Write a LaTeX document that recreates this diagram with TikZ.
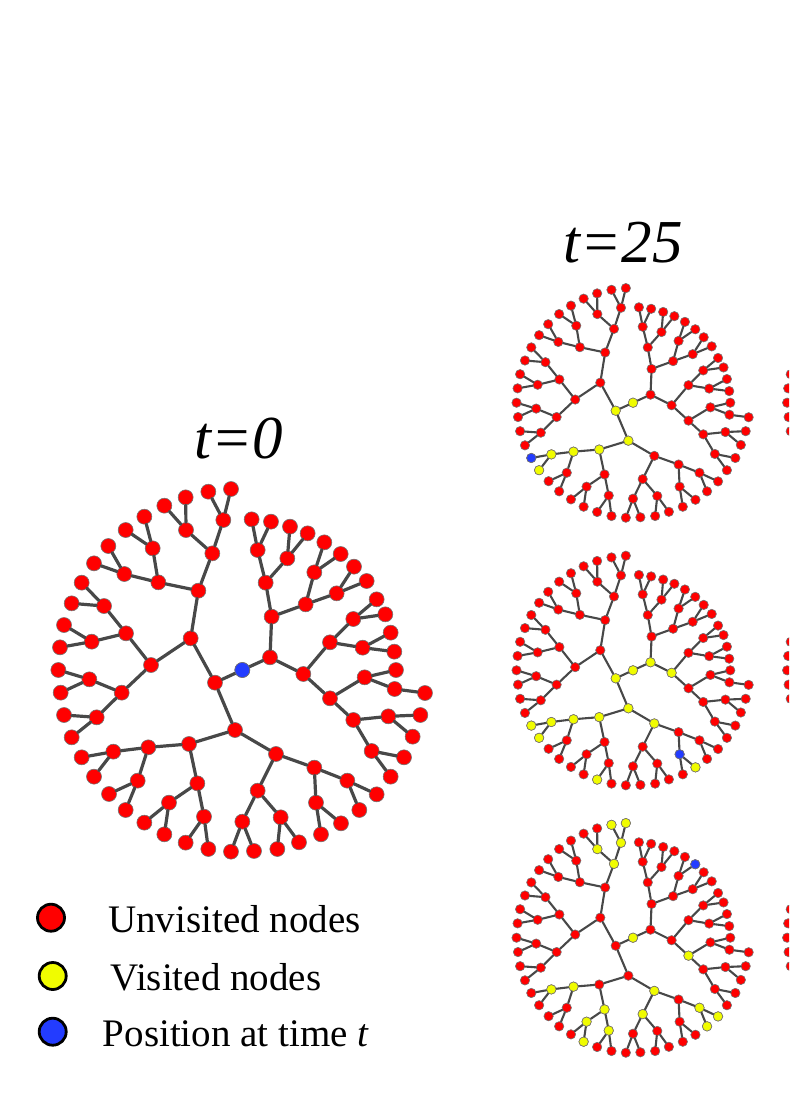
\documentclass[tikz,border=0pt]{standalone}
\usepackage{fontspec}
\setmainfont{Liberation Serif}

\definecolor{nodered}{RGB}{255,0,0}
\definecolor{nodeyellow}{RGB}{240,252,0}
\definecolor{nodeblue}{RGB}{35,60,255}
\definecolor{linkgray}{RGB}{72,72,72}
\definecolor{dotrim}{RGB}{115,115,115}

\tikzset{
  dot/.style={circle, inner sep=0pt, draw=dotrim, line width=0.6pt},
  bigdot/.style={minimum size=15pt},
  smalldot/.style={minimum size=9.4pt},
  unvisited/.style={dot, fill=nodered},
  visited/.style={dot, fill=nodeyellow},
  walker/.style={dot, fill=nodeblue},
  link/.style={draw=linkgray, line cap=round},
  legdot/.style={circle, inner sep=0pt, minimum size=27pt, draw=black, line width=2.8pt},
  legtext/.style={anchor=base west, inner sep=0pt, font=\fontsize{39}{39}\selectfont},
  stamp/.style={anchor=base, inner sep=0pt, font=\fontsize{61}{61}\selectfont\itshape}
}

% tree layout: name/parent/x/y, the root r sits at 607/600
\def\treenodes{l/r/525/638, m/r/690/562,
  A/l/452/505, B/l/585/780, C/m/695/440, D/m/790/612,
  A1/A/475/362, A2/A/333/585,
  A11/A1/517/250, A12/A1/355/337,
  A111/A11/550/150, A111a/A111/505/65, A111b/A111/573/57,
  A112/A11/438/180, A112a/A112/373/107, A112b/A112/437/82,
  A121/A12/338/235, A121a/A121/313/140, A121b/A121/257/180,
  A122/A12/253/312, A122a/A122/205/228, A122b/A122/162/280,
  A21/A2/258/490, A22/A2/245/668,
  A211/A21/192/408, A211a/A211/125/338, A211b/A211/95/400,
  A212/A21/155/515, A212a/A212/72/465, A212b/A212/60/532,
  A221/A22/148/628, A221a/A221/55/600, A221b/A221/62/668,
  A222/A22/170/742, A222a/A222/72/735, A222b/A222/95/802,
  B1/B/447/822, B2/B/708/852,
  B11/B1/325/832, B12/B1/472/940,
  B111/B11/220/845, B111a/B111/125/862, B111b/B111/162/920,
  B112/B11/293/932, B112a/B112/207/972, B112b/B112/257/1020,
  B121/B12/387/998, B121a/B121/313/1058, B121b/B121/373/1093,
  B122/B12/492/1040, B122a/B122/437/1118, B122b/B122/505/1137,
  B21/B2/653/962, B22/B2/823/893,
  B211/B21/607/1055, B211a/B211/573/1145, B211b/B211/642/1143,
  B212/B21/722/1042, B212a/B212/712/1137, B212b/B212/777/1117,
  B221/B22/828/998, B221a/B221/843/1093, B221b/B221/903/1060,
  B222/B22/922/932, B222a/B222/958/1020, B222b/B222/1010/973,
  C1/C/677/338, C2/C/797/403,
  C11/C1/653/240, C11a/C11/635/148, C11b/C11/693/155,
  C12/C1/742/265, C12a/C12/750/170, C12b/C12/803/190,
  C21/C2/823/307, C21a/C21/853/217, C21b/C21/902/252,
  C22/C2/890/370, C22a/C22/942/290, C22b/C22/980/333,
  D1/D/870/517, D2/D/870/685,
  D11/D1/940/447, D11a/D11/1010/388, D11b/D11/1036/433,
  D12/D1/968/533, D12a/D12/1052/488, D12b/D12/1063/545,
  D21/D2/974/622, D21a/D21/1068/600,
  D211/D21/1064/657, D211a/D211/1155/669,
  D22/D2/940/750, D221/D22/1045/739, D221a/D221/1141/735, D221b/D221/1118/800,
  D222/D22/995/843, D222a/D222/1092/862, D222b/D222/1052/920}

% #1 prefix, #2 centre, #3 scale, #4 dot style, #5 link width
\newcommand\drawtree[5]{%
  \begin{scope}[shift={#2}, scale=#3]
    \node[unvisited, #4] (#1r) at (0,0) {};
    \foreach \n/\p/\x/\y in \treenodes
      \node[unvisited, #4] (#1\n) at (\x-607,\y-600) {};
    \foreach \n/\p/\x/\y in \treenodes
      \draw[link, line width=#5] (#1\p) -- (#1\n);
  \end{scope}}

\begin{document}
\begin{tikzpicture}[x=1pt, y=-1pt]
    \useasboundingbox (0,0) rectangle (789,1115);
    \clip (0,0) rectangle (789,1115);

    % Titles
    \node[stamp] (stamp0) at (239,458.3) {t=0};
    \node[stamp] (stamp25) at (623,262.7) {t=25};

    % t = 0
    \drawtree{g-}{(242.33,670)}{0.3333}{bigdot}{3.2pt}
    \node[walker, bigdot] at (g-r) {};

    % t = 25, first walk
    \drawtree{s-}{(633,402.7)}{0.211}{smalldot}{2.1pt}
    \foreach \v in {r,l,B,B1,B11,B111,B111b}
      \node[visited, smalldot] at (s-\v) {};
    \node[walker, smalldot] at (s-B111a) {};

    % t = 25, second walk
    \drawtree{h-}{(633,670.3)}{0.211}{smalldot}{2.1pt}
    \foreach \v in {r,l,m,D,B,B1,B11,B111,B111a,B111b,B2,B122a,B221b}
      \node[visited, smalldot] at (h-\v) {};
    \node[walker, smalldot] at (h-B221) {};

    % t = 25, third walk
    \drawtree{k-}{(633,937.7)}{0.211}{smalldot}{2.1pt}
    \foreach \v in {r,D2,A11,A111,A111a,A111b,A112,B11,B111,B2,B12,B121,B121b,B122,B21,B222,B222a,B222b}
      \node[visited, smalldot] at (k-\v) {};
    \node[walker, smalldot] at (k-C21b) {};

    % next column, cut by the page edge
    \drawtree{u-}{(903.6,402.7)}{0.211}{smalldot}{2.1pt}
    \drawtree{v-}{(903.6,670.3)}{0.211}{smalldot}{2.1pt}
    \drawtree{w-}{(903.6,937.7)}{0.211}{smalldot}{2.1pt}

    % Legend
    \node[legdot, fill=nodered] (keyred) at (51,917.7) {};
    \node[legdot, fill=nodeyellow] (keyyellow) at (52.7,976) {};
    \node[legdot, fill=nodeblue] (keyblue) at (52.7,1031.7) {};
    \node[legtext] (keyredtext) at (108,932.7) {Unvisited nodes};
    \node[legtext] (keyyellowtext) at (110,990) {Visited nodes};
    \node[legtext] (keybluetext) at (102.7,1046.7) {Position at time \textit{t}};

\end{tikzpicture}
\end{document}
